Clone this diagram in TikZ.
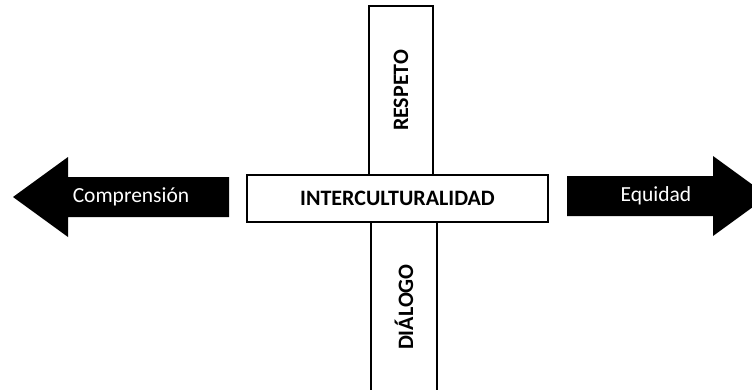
\documentclass[tikz,border=0pt]{standalone}
\usepackage{fontspec}
\setmainfont{Carlito}
\begin{document}
\begin{tikzpicture}[x=1pt,y=-1pt,
						every node/.style = {font=\fontsize{21.5}{25}\selectfont},
						caja/.style = {draw,line width=1.5pt,fill=white,inner sep=0pt},
						titulo/.style = {font=\fontsize{22}{26}\selectfont\bfseries}
					]

					\useasboundingbox (0,0) rectangle (752,389);

					% flechas
					\fill (229,177) -- (68,177) -- (68,157) -- (13,197) -- (68,237) -- (68,217) -- (229,217) -- cycle;
					\fill (567,176) -- (713,176) -- (713,156) -- (768,196) -- (713,236) -- (713,216) -- (567,216) -- cycle;
					\node[white] (compr) at (131,197) {Comprensión};
					\node[white] (equidad) at (656,196) {Equidad};

					% cruz
					\node[caja,rotate=90,minimum width=169,minimum height=64,titulo] (respeto) at (401,90.5) {RESPETO};
					\node[caja,rotate=90,minimum width=170,minimum height=66,titulo] (dialogo) at (404,307) {DIÁLOGO};
					\node[caja,minimum width=301,minimum height=47,titulo] (inter) at (397.5,198.5) {INTERCULTURALIDAD};

				\end{tikzpicture}
\end{document}
